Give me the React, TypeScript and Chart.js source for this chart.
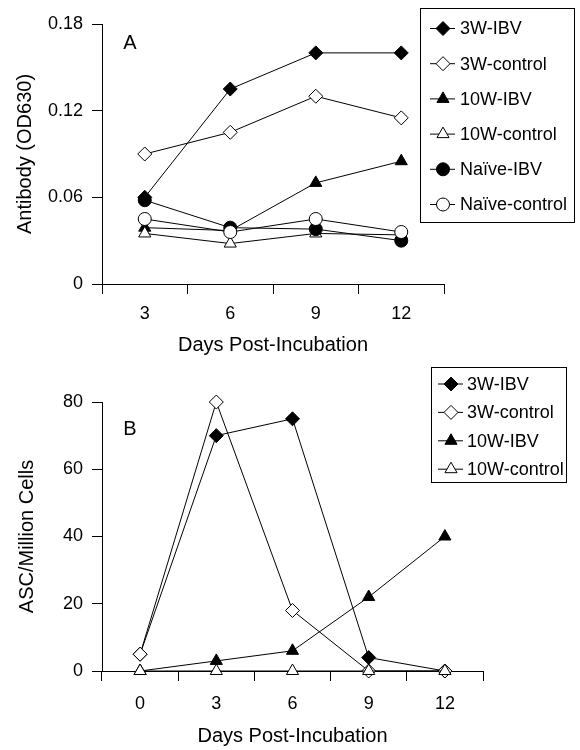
import React, { useEffect, useRef } from 'react';
import { Chart, registerables } from 'chart.js';

Chart.register(...registerables);

// ---------- Data ----------
const daysA = ['3', '6', '9', '12'];
const a3wIbv = [0.06, 0.135, 0.16, 0.16];
const a3wControl = [0.09, 0.105, 0.13, 0.115];
const a10wIbv = [0.039, 0.037, 0.07, 0.085];
const a10wControl = [0.035, 0.028, 0.035, 0.034];
const aNaiveIbv = [0.058, 0.039, 0.038, 0.03];
const aNaiveControl = [0.045, 0.036, 0.045, 0.036];
const yTicksA = [0, 0.06, 0.12, 0.18];

const daysB = ['0', '3', '6', '9', '12'];
const b3wIbv = [5, 70, 75, 4, 0];
const b3wControl = [5, 80, 18, 0, 0];
const b10wIbv = [0, 3, 6, 22, 40];
const b10wControl = [0, 0, 0, 0, 0];
const yTicksB = [0, 20, 40, 60, 80];

const labelsA = ['3W-IBV', '3W-control', '10W-IBV', '10W-control', 'Naïve-IBV', 'Naïve-control'];
const labelsB = ['3W-IBV', '3W-control', '10W-IBV', '10W-control'];

// ---------- Styles ----------
const FONT = '"Liberation Sans", Arial, Helvetica, sans-serif';
type Shape = 'rectRot' | 'triangle' | 'circle';
interface Look { shape: Shape; filled: boolean; radius: number }
const looks: Look[] = [
  { shape: 'rectRot', filled: true, radius: 7 },
  { shape: 'rectRot', filled: false, radius: 7 },
  { shape: 'triangle', filled: true, radius: 7 },
  { shape: 'triangle', filled: false, radius: 7 },
  { shape: 'circle', filled: true, radius: 6.5 },
  { shape: 'circle', filled: false, radius: 6.5 },
];

function drawMarker(ctx: CanvasRenderingContext2D, look: Look, x: number, y: number) {
  const r = look.radius;
  ctx.beginPath();
  if (look.shape === 'circle') {
    ctx.arc(x, y, r, 0, Math.PI * 2);
  } else if (look.shape === 'rectRot') {
    ctx.moveTo(x - r, y);
    ctx.lineTo(x, y - r);
    ctx.lineTo(x + r, y);
    ctx.lineTo(x, y + r);
    ctx.closePath();
  } else {
    let rad = 0;
    ctx.moveTo(x + Math.sin(rad) * r, y - Math.cos(rad) * r);
    rad += (2 * Math.PI) / 3;
    ctx.lineTo(x + Math.sin(rad) * r, y - Math.cos(rad) * r);
    rad += (2 * Math.PI) / 3;
    ctx.lineTo(x + Math.sin(rad) * r, y - Math.cos(rad) * r);
    ctx.closePath();
  }
  ctx.fillStyle = look.filled ? '#000' : '#fff';
  ctx.fill();
  ctx.lineWidth = 1;
  ctx.strokeStyle = '#000';
  ctx.stroke();
}

function makeDatasets(labels: string[], series: number[][]) {
  const n = series.length;
  return series.map((data, i) => {
    const lk = looks[i];
    return {
      label: labels[i],
      data,
      order: n - i,
      borderColor: '#000',
      borderWidth: 1,
      tension: 0,
      fill: false,
      clip: false as const,
      pointStyle: lk.shape,
      pointRadius: lk.radius,
      pointHoverRadius: lk.radius,
      pointBackgroundColor: lk.filled ? '#000' : '#fff',
      pointBorderColor: '#000',
      pointBorderWidth: 1,
    };
  });
}

interface LegendLayout {
  box: [number, number, number, number];
  firstY: number;
  stepY: number;
  lineX0: number;
  lineX1: number;
  markerX: number;
  textX: number;
  fontSize: number;
  letter: string;
  letterX: number;
  letterY: number;
}

function overlayPlugin(labels: string[], lay: LegendLayout) {
  return {
    id: 'overlay',
    afterDraw(chart: Chart) {
      const ctx = chart.ctx;
      ctx.save();
      // panel letter
      ctx.fillStyle = '#000';
      ctx.font = `20px ${FONT}`;
      ctx.textAlign = 'center';
      ctx.textBaseline = 'middle';
      ctx.fillText(lay.letter, lay.letterX, lay.letterY);
      // legend box
      const [bx, by, bw, bh] = lay.box;
      ctx.fillStyle = '#fff';
      ctx.fillRect(bx, by, bw, bh);
      ctx.lineWidth = 1;
      ctx.strokeStyle = '#000';
      ctx.strokeRect(bx + 0.5, by + 0.5, bw, bh);
      labels.forEach((lab, i) => {
        const y = lay.firstY + i * lay.stepY;
        ctx.beginPath();
        ctx.moveTo(lay.lineX0, y);
        ctx.lineTo(lay.lineX1, y);
        ctx.lineWidth = 1;
        ctx.strokeStyle = '#000';
        ctx.stroke();
        drawMarker(ctx, looks[i], lay.markerX, y);
        ctx.fillStyle = '#000';
        ctx.font = `${lay.fontSize}px ${FONT}`;
        ctx.textAlign = 'left';
        ctx.textBaseline = 'middle';
        ctx.fillText(lab, lay.textX, y + 1);
      });
      ctx.restore();
    },
  };
}

interface PanelCfg {
  width: number;
  height: number;
  categories: string[];
  labels: string[];
  series: number[][];
  yTicks: number[];
  yTitle: string;
  fmt: (v: number) => string;
  pad: { left: number; right: number; top: number; bottom: number };
  yWidth: number;
  xHeight: number;
  xTickPad: number;
  legend: LegendLayout;
}

function buildConfig(c: PanelCfg): any {
  const tickFont = { family: FONT, size: 18 };
  const titleFont = { family: FONT, size: 20 };
  return {
    type: 'line',
    data: { labels: c.categories, datasets: makeDatasets(c.labels, c.series) },
    options: {
      animation: false,
      responsive: false,
      maintainAspectRatio: false,
      events: [],
      layout: { padding: c.pad },
      plugins: { legend: { display: false }, tooltip: { enabled: false } },
      scales: {
        x: {
          type: 'category',
          offset: true,
          grid: {
            offset: true,
            drawOnChartArea: false,
            drawTicks: true,
            tickLength: 10,
            color: '#000',
            lineWidth: 1,
          },
          border: { display: true, color: '#000', width: 1 },
          ticks: { color: '#000', font: tickFont, padding: c.xTickPad, maxRotation: 0, autoSkip: false },
          title: {
            display: true,
            text: 'Days Post-Incubation',
            color: '#000',
            font: titleFont,
            padding: { top: 0, bottom: 2 },
          },
          afterFit: (s: any) => {
            s.height = c.xHeight;
          },
        },
        y: {
          type: 'linear',
          min: c.yTicks[0],
          max: c.yTicks[c.yTicks.length - 1],
          afterBuildTicks: (s: any) => {
            s.ticks = c.yTicks.map((v) => ({ value: v }));
          },
          grid: {
            drawOnChartArea: false,
            drawTicks: true,
            tickLength: 10,
            color: '#000',
            lineWidth: 1,
          },
          border: { display: true, color: '#000', width: 1 },
          ticks: {
            color: '#000',
            font: tickFont,
            padding: 9,
            callback: (v: any) => c.fmt(Number(v)),
          },
          title: {
            display: true,
            text: c.yTitle,
            color: '#000',
            font: titleFont,
            padding: { top: 3, bottom: 0 },
          },
          afterFit: (s: any) => {
            s.width = c.yWidth;
          },
        },
      },
    },
    plugins: [overlayPlugin(c.labels, c.legend)],
  };
}

const panelA: PanelCfg = {
  width: 580,
  height: 360,
  categories: daysA,
  labels: labelsA,
  series: [a3wIbv, a3wControl, a10wIbv, a10wControl, aNaiveIbv, aNaiveControl],
  yTicks: yTicksA,
  yTitle: 'Antibody (OD630)',
  fmt: (v) => (v === 0 ? '0' : v.toFixed(2)),
  pad: { left: 10, right: 136, top: 24, bottom: 1 },
  yWidth: 92,
  xHeight: 75,
  xTickPad: 9,
  legend: {
    box: [420, 8, 154, 214],
    firstY: 28.5,
    stepY: 35.2,
    lineX0: 430,
    lineX1: 455,
    markerX: 443,
    textX: 460,
    fontSize: 18,
    letter: 'A',
    letterX: 130,
    letterY: 43,
  },
};

const panelB: PanelCfg = {
  width: 580,
  height: 390,
  categories: daysB,
  labels: labelsB,
  series: [b3wIbv, b3wControl, b10wIbv, b10wControl],
  yTicks: yTicksB,
  yTitle: 'ASC/Million Cells',
  fmt: (v) => String(v),
  pad: { left: 12, right: 97, top: 42, bottom: 0 },
  yWidth: 90,
  xHeight: 79,
  xTickPad: 12,
  legend: {
    box: [431, 7, 135, 115],
    firstY: 24,
    stepY: 28.4,
    lineX0: 438,
    lineX1: 463,
    markerX: 451,
    textX: 467,
    fontSize: 18,
    letter: 'B',
    letterX: 130,
    letterY: 69,
  },
};

function Panel({ cfg, top }: { cfg: PanelCfg; top: number }) {
  const ref = useRef<HTMLCanvasElement | null>(null);
  useEffect(() => {
    if (!ref.current) return;
    const chart = new Chart(ref.current, buildConfig(cfg));
    return () => chart.destroy();
  }, [cfg]);
  return (
    <canvas
      ref={ref}
      width={cfg.width}
      height={cfg.height}
      style={{ position: 'absolute', left: 0, top, width: cfg.width, height: cfg.height, display: 'block' }}
    />
  );
}

export default function App() {
  return (
    <div style={{ position: 'absolute', left: 0, top: 0, width: 580, height: 750, background: '#fff' }}>
      <Panel cfg={panelA} top={0} />
      <Panel cfg={panelB} top={360} />
    </div>
  );
}
